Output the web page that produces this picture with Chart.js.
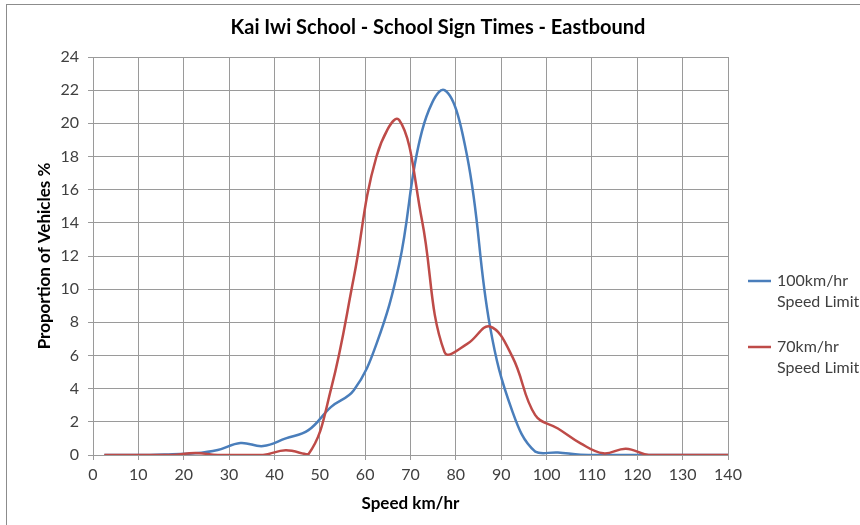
<!DOCTYPE html>
<html>
<head>
  <title>Kai Iwi School</title>
  <meta charset="utf-8" />
  <style>
    body { margin: 0; background: #fff; }
    #frame { position: absolute; left: 6px; top: 4px; width: 900px; height: 600px;
             border-left: 1px solid #8c8c8c; border-top: 1px solid #8c8c8c; }
    #wrap { position: absolute; left: 0; top: 0; width: 860px; height: 525px; }
  </style>
</head>
<body>
  <div id="frame"></div>
  <div id="wrap"><canvas id="chart" width="860" height="525"></canvas></div>

  <script src="https://cdn.jsdelivr.net/npm/chart.js"></script>
  <script>
    // speed bins (mid points), km/hr
    const speeds = [2.5, 7.5, 12.5, 17.5, 22.5, 27.5, 32.5, 37.5, 42.5, 47.5,
      52.5, 57.5, 62.5, 67.5, 72.5, 77.5, 82.5, 87.5, 92.5, 97.5,
      102.5, 107.5, 112.5, 117.5, 122.5, 127.5, 132.5, 137.5, 140];
    const limit100 = [0, 0, 0, 0.05, 0.1, 0.3, 0.72, 0.54, 1.0, 1.5,
      2.9, 3.9, 6.7, 11.5, 19.5, 22.0, 18.0, 7.8, 2.6, 0.2,
      0.15, 0.02, 0, 0, 0, 0, 0, 0, 0];
    const limit70 = [0, 0, 0, 0, 0.12, 0, 0, 0, 0.28, 0.05,
      4.0, 10.7, 18.0, 20.2, 14.2, 6.2, 6.7, 7.75, 5.9, 2.4,
      1.6, 0.7, 0.1, 0.38, 0, 0, 0, 0, 0];
    const seriesLabels = [['100km/hr', 'Speed Limit'], ['70km/hr', 'Speed Limit']];
    const seriesColors = ['#4a7ebb', '#be4b48'];
    const titleText = 'Kai Iwi School - School Sign Times - Eastbound';

    const FONT = 'Lato, "Open Sans", sans-serif';
    const gridCol = '#9a9a9a';

    function pts(ys) { return speeds.map((s, i) => ({ x: s, y: ys[i] })); }

    // title + legend drawn by hand (legend text wraps onto two lines)
    const extras = {
      id: 'extras',
      afterDraw(chart) {
        const c = chart.ctx;
        c.save();
        c.fillStyle = '#000';
        c.font = 'bold 20px ' + FONT;
        c.textAlign = 'center';
        c.textBaseline = 'middle';
        c.fillText(titleText, 438, 28);

        c.font = '16px ' + FONT;
        c.textAlign = 'left';
        c.fillStyle = '#404040';
        const tops = [281, 347];
        chart.data.datasets.forEach((ds, i) => {
          const y = tops[i];
          c.strokeStyle = ds.borderColor;
          c.lineWidth = 2.5;
          c.beginPath(); c.moveTo(748, y); c.lineTo(771, y); c.stroke();
          seriesLabels[i].forEach((t, j) => c.fillText(t, 777, y + j * 21));
        });
        c.restore();
      }
    };

    new Chart(document.getElementById('chart'), {
      type: 'line',
      data: {
        datasets: [
          { label: '100km/hr Speed Limit', data: pts(limit100), borderColor: seriesColors[0],
            borderWidth: 2.5, pointRadius: 0, tension: 0.4, order: 1 },
          { label: '70km/hr Speed Limit', data: pts(limit70), borderColor: seriesColors[1],
            borderWidth: 2.5, pointRadius: 0, tension: 0.4, order: 0 }
        ]
      },
      options: {
        responsive: false,
        animation: false,
        layout: { padding: { left: 0, right: 132, top: 57, bottom: 0 } },
        plugins: { legend: { display: false }, title: { display: false }, tooltip: { enabled: false } },
        scales: {
          x: {
            type: 'linear', min: 0, max: 140,
            ticks: { stepSize: 10, color: '#404040', font: { family: FONT, size: 16 }, padding: 5, maxRotation: 0 },
            grid: { color: gridCol, tickLength: 5 },
            border: { color: gridCol },
            title: { display: true, text: 'Speed km/hr', color: '#000',
                     font: { family: FONT, size: 17, weight: 'bold' }, padding: { top: 0, bottom: 11 } },
            afterFit(s) { s.height = 70; }
          },
          y: {
            min: 0, max: 24,
            ticks: { stepSize: 2, color: '#404040', font: { family: FONT, size: 16 }, padding: 9 },
            grid: { color: gridCol, tickLength: 5 },
            border: { color: gridCol },
            title: { display: true, text: 'Proportion of Vehicles %', color: '#000',
                     font: { family: FONT, size: 17, weight: 'bold' }, padding: { top: 34, bottom: 0 } },
            afterFit(s) { s.width = 93; }
          }
        }
      },
      plugins: [extras]
    });
  </script>
</body>
</html>
